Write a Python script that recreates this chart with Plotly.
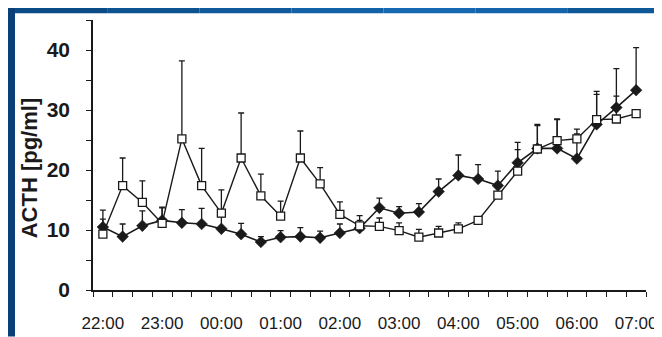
import plotly.graph_objects as go

# ---- data ----
times = ["22:00", "22:20", "22:40", "23:00", "23:20", "23:40", "00:00", "00:20",
         "00:40", "01:00", "01:20", "01:40", "02:00", "02:20", "02:40", "03:00",
         "03:20", "03:40", "04:00", "04:20", "04:40", "05:00", "05:20", "05:40",
         "06:00", "06:20", "06:40", "07:00"]

open_mean = [9.3, 17.4, 14.6, 11.1, 25.2, 17.4, 12.8, 22.0, 15.7, 12.3, 22.0, 17.7,
             12.6, 10.7, 10.6, 9.9, 8.8, 9.5, 10.2, 11.6, 15.8, 19.8, 23.5, 24.9,
             25.2, 28.4, 28.5, 29.4]
open_top = [11.8, 22.0, 18.2, 13.7, 38.2, 23.6, 16.7, 29.5, 19.3, 14.8, 26.5, 20.4,
            14.7, 12.4, 12.0, 11.2, 10.1, 10.6, 11.2, 12.0, 16.3, 23.4, 27.4, 28.4,
            26.0, 32.6, 32.3, 30.0]

filled_mean = [10.5, 8.9, 10.7, 11.6, 11.2, 11.0, 10.2, 9.3, 8.0, 8.8, 8.9, 8.7,
               9.5, 10.3, 13.7, 12.8, 13.0, 16.4, 19.1, 18.5, 17.4, 21.2, 23.6, 23.6,
               21.9, 27.6, 30.4, 33.3]
filled_top = [13.3, 11.0, 13.2, 13.8, 13.4, 13.6, 12.2, 11.1, 8.9, 9.9, 10.4, 9.8,
              11.0, 11.6, 15.3, 13.9, 14.4, 18.5, 22.5, 20.9, 19.8, 24.6, 27.6, 28.5,
              26.8, 33.1, 36.9, 40.4]

tick_labels = ["22:00", "23:00", "00:00", "01:00", "02:00", "03:00", "04:00",
               "05:00", "06:00", "07:00"]
y_ticks = [0, 10, 20, 30, 40]
y_title = "ACTH [pg/ml]"


def to_min(t):
    h, m = map(int, t.split(":"))
    return ((h - 22) % 24) * 60 + m


x = [to_min(t) for t in times]
tick_x = [to_min(t) for t in tick_labels]
open_err = [t - m for t, m in zip(open_top, open_mean)]
filled_err = [t - m for t, m in zip(filled_top, filled_mean)]

INK = "#1a1a1a"
fig = go.Figure()
fig.add_trace(go.Scatter(
    x=x, y=filled_mean, mode="lines+markers",
    line=dict(color=INK, width=1.6),
    marker=dict(symbol="diamond", size=9, color=INK, line=dict(color=INK, width=0.5)),
    error_y=dict(type="data", symmetric=False, array=filled_err,
                 arrayminus=[0] * len(x), color=INK, thickness=1.3, width=3),
    showlegend=False, cliponaxis=False))
fig.add_trace(go.Scatter(
    x=x, y=open_mean, mode="lines+markers",
    line=dict(color=INK, width=1.4),
    marker=dict(symbol="square", size=8, color="white", line=dict(color=INK, width=1.3)),
    error_y=dict(type="data", symmetric=False, array=open_err,
                 arrayminus=[0] * len(x), color=INK, thickness=1.3, width=3),
    showlegend=False, cliponaxis=False))

# plot area in pixels
L, R, T, B = 85, 638, 12, 296
W, H = 662, 337


def px(xp):
    return (xp - L) / (R - L)


def py(yp):
    return (B - yp) / (B - T)


FRAME = "#0c4680"
shapes = []
# blue frame: left and right bands
shapes.append(dict(type="rect", xref="paper", yref="paper", x0=px(-5), x1=px(7),
                   y0=py(-5), y1=py(345), fillcolor="#0b3f78", line=dict(width=0), layer="below"))
shapes.append(dict(type="rect", xref="paper", yref="paper", x0=px(652), x1=px(670),
                   y0=py(-5), y1=py(345), fillcolor=FRAME, line=dict(width=0), layer="below"))
# top band with a light gradient
blues = ["#0b4b86", "#0d5291", "#105a9c", "#1362a8", "#1668b1", "#1464ab", "#0f5898"]
seg = (652 - 7) / len(blues)
for i, c in enumerate(blues):
    shapes.append(dict(type="rect", xref="paper", yref="paper", x0=px(7 + i * seg),
                       x1=px(7 + (i + 1) * seg), y0=py(-5), y1=py(5),
                       fillcolor=c, line=dict(width=0), layer="below"))

minor_x = [v for v in range(-10, 551, 20)]

fig.update_layout(
    width=W, height=H,
    margin=dict(l=L, r=W - R, t=T, b=H - B),
    paper_bgcolor="white", plot_bgcolor="white",
    shapes=shapes,
    xaxis=dict(range=[-10, 550], tickmode="array", tickvals=tick_x, ticktext=tick_labels,
               ticks="", showgrid=False, zeroline=False, showline=True,
               linecolor=INK, linewidth=1.5,
               tickfont=dict(family="Liberation Sans, Arial", size=17, color=INK),
               ticklabelstandoff=17,
               minor=dict(tickmode="array", tickvals=minor_x, ticks="outside",
                          ticklen=5, tickwidth=1.3, tickcolor=INK, showgrid=False)),
    yaxis=dict(range=[0, 45], tickmode="array", tickvals=y_ticks, ticks="outside",
               ticklen=5, tickwidth=1.3, tickcolor=INK, showgrid=False, zeroline=False,
               showline=True, linecolor=INK, linewidth=1.5,
               tickfont=dict(family="Liberation Sans, Arial", size=21, color=INK,
                             weight="bold"),
               ticklabelstandoff=12,
               minor=dict(tickmode="array", tickvals=[5, 15, 25, 35, 45], ticks="outside",
                          ticklen=5, tickwidth=1.3, tickcolor=INK, showgrid=False)),
    annotations=[dict(text=y_title, textangle=-90, xref="paper", yref="paper",
                      x=px(21), y=py(168), xanchor="center", yanchor="middle",
                      showarrow=False,
                      font=dict(family="Liberation Sans, Arial", size=22, color=INK,
                                weight="bold"))],
)

fig.write_html("out.html")
